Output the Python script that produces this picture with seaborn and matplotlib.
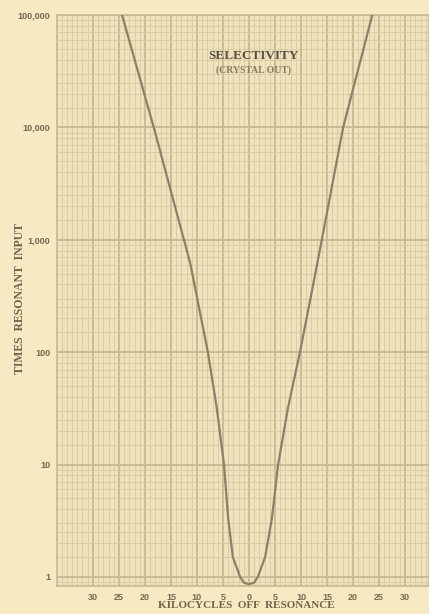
import matplotlib
matplotlib.use('Agg')
import matplotlib.pyplot as plt
from matplotlib.ticker import FixedLocator, LogLocator, NullFormatter, MultipleLocator
import seaborn as sns
import pandas as pd

# ============================================================
# DATA
# ============================================================
kc_off = [-24.4, -18.3, -12.5, -11.3, -7.9, -6.2, -4.8, -4.0, -3.1, -1.7, -1.0, 0.0,
          1.0, 1.7, 3.1, 4.4, 5.6, 7.5, 9.8, 12.1, 14.0, 18.1, 23.7]
times_input = [100000, 10000, 1000, 620, 100, 32, 10, 3.3, 1.5, 1.0, 0.89, 0.86,
               0.89, 1.0, 1.5, 3.3, 10, 32, 100, 350, 1000, 10000, 100000]

x_ticks = [-30, -25, -20, -15, -10, -5, 0, 5, 10, 15, 20, 25, 30]
x_tick_labels = ['30', '25', '20', '15', '10', '5', '0', '5', '10', '15', '20', '25', '30']
y_ticks = [1, 10, 100, 1000, 10000, 100000]
y_tick_labels = ['1', '10', '100', '1,000', '10,000', '100,000']

# ============================================================
# STYLE
# ============================================================
PAPER = '#F7E9C2'
GRID_MAJOR = '#C6B993'
GRID_MINOR = '#D6C9A3'
INK = '#75694F'
CURVE = '#8C8066'

sns.set_style('white')
plt.rcParams['font.family'] = ['Liberation Serif', 'DejaVu Serif']

fig = plt.figure(figsize=(4.29, 6.14), dpi=100, facecolor=PAPER)
ax = fig.add_axes([57 / 429, 28 / 614, 372 / 429, 571 / 614])
ax.set_facecolor('#F0E3BC')

df = pd.DataFrame({'kc': kc_off, 'times': times_input})
sns.lineplot(data=df, x='kc', y='times', sort=False, ax=ax,
             color=CURVE, linewidth=1.6, zorder=5)

ax.set_yscale('log')
ax.set_xlim(-36.9, 34.6)
ax.set_ylim(0.83, 100000)

# graph-paper grid
ax.xaxis.set_major_locator(FixedLocator(x_ticks))
ax.xaxis.set_minor_locator(MultipleLocator(1))
ax.yaxis.set_major_locator(FixedLocator(y_ticks))
ax.yaxis.set_minor_locator(LogLocator(base=10, subs=[1.5, 2, 2.5, 3, 4, 5, 6, 7, 8, 9], numticks=20))
ax.yaxis.set_minor_formatter(NullFormatter())
ax.grid(which='major', color=GRID_MAJOR, linewidth=1.3)
ax.grid(which='minor', color=GRID_MINOR, linewidth=0.6)
ax.set_axisbelow(True)

ax.set_xticklabels(x_tick_labels)
ax.set_yticklabels(y_tick_labels)
ax.tick_params(which='both', length=0)
ax.tick_params(axis='x', labelsize=6.5, colors=INK, pad=5)
ax.tick_params(axis='y', labelsize=6.5, colors=INK, pad=5)
for lbl in ax.get_xticklabels() + ax.get_yticklabels():
    lbl.set_fontweight('bold')
    lbl.set_family(['Liberation Sans', 'DejaVu Sans'])

for side in ['top', 'right', 'bottom', 'left']:
    ax.spines[side].set_color(GRID_MAJOR)
    ax.spines[side].set_linewidth(1.2)

ax.set_xlabel('')
ax.set_ylabel('')

# titles
ax.text(0.527, 0.928, 'SELECTIVITY', transform=ax.transAxes, ha='center', va='center',
        fontsize=9.5, fontweight='bold', color='#555040', zorder=6)
ax.text(0.527, 0.903, '(CRYSTAL OUT)', transform=ax.transAxes, ha='center', va='center',
        fontsize=7, fontweight='bold', color='#857B63', zorder=6)

fig.text(246 / 429, 1 - 606 / 614, 'KILOCYCLES  OFF  RESONANCE', ha='center', va='center',
         fontsize=8, fontweight='bold', color='#6E634B')
fig.text(20 / 429, 1 - 299 / 614, 'TIMES  RESONANT  INPUT', ha='center', va='center',
         rotation=90, fontsize=8.5, fontweight='bold', color='#6E634B')

fig.savefig('out.png', dpi=100, facecolor=PAPER)
